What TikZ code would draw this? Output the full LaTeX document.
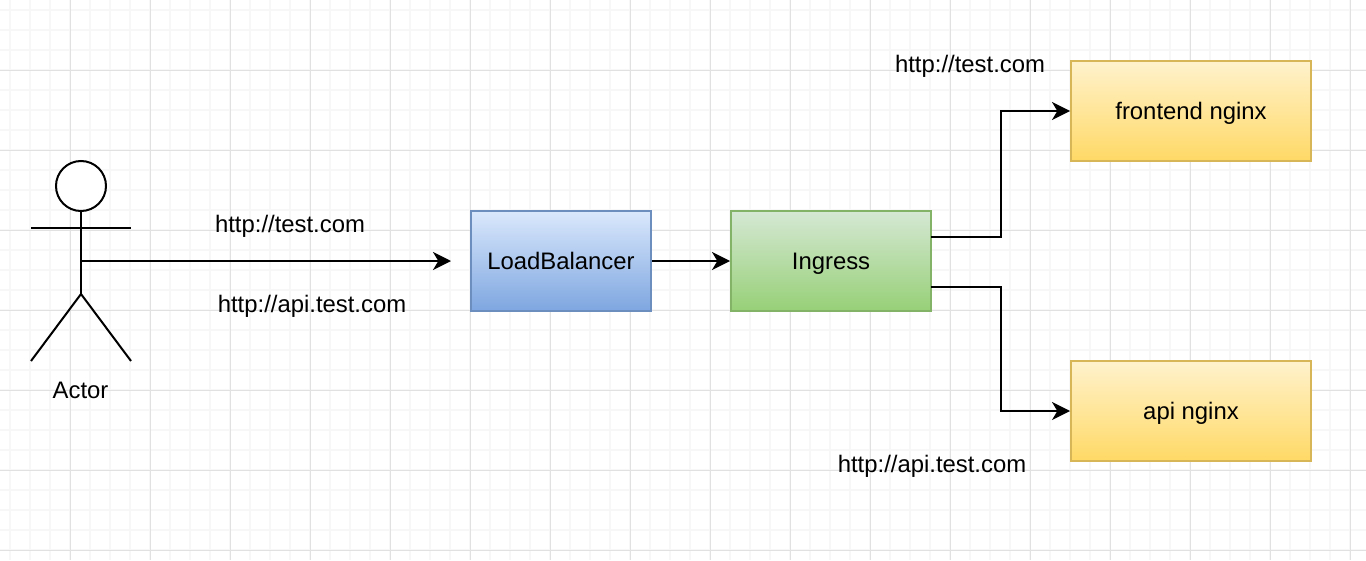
\documentclass[tikz,border=0pt]{standalone}
\usepackage{fontspec}
\setmainfont{Liberation Sans}
\usetikzlibrary{arrows.meta}
\definecolor{gridmajor}{HTML}{E1E1E1}
\definecolor{gridminor}{HTML}{F7F7F7}
\definecolor{bluetop}{HTML}{DAE8FC}
\definecolor{bluebot}{HTML}{7EA6E0}
\definecolor{blueline}{HTML}{6C8EBF}
\definecolor{greentop}{HTML}{D5E8D4}
\definecolor{greenbot}{HTML}{97D077}
\definecolor{greenline}{HTML}{82B366}
\definecolor{yellowtop}{HTML}{FFF2CC}
\definecolor{yellowbot}{HTML}{FFD966}
\definecolor{yellowline}{HTML}{D6B656}
\tikzset{
  x=0.75pt,y=-0.75pt,
  label text/.style={font=\fontsize{17.9pt}{20pt}\selectfont,text=black,inner sep=0pt,anchor=center,text height=16.8pt,text depth=4pt},
  box/.style={label text,rectangle,line width=1.5pt,minimum height=75pt,shading angle=0},
  bluebox/.style={box,draw=blueline,top color=bluetop,bottom color=bluebot,minimum width=135pt},
  greenbox/.style={box,draw=greenline,top color=greentop,bottom color=greenbot,minimum width=150pt},
  yellowbox/.style={box,draw=yellowline,top color=yellowtop,bottom color=yellowbot,minimum width=180pt},
  conn/.style={draw=black,line width=1.5pt,-{Stealth[length=13.5pt,width=13.5pt,inset=4pt]}},
  figure/.style={draw=black,line width=1.5pt},
  minorgrid/.style={draw=gridminor,line width=1.1pt},
  majorgrid/.style={draw=gridmajor,line width=0.75pt},
}
\begin{document}
\begin{tikzpicture}
\useasboundingbox (0,0) rectangle (1366,560);
\fill[white] (0,0) rectangle (1366,560);
% grid
\foreach \i in {10,30,...,1350} \draw[minorgrid] (\i,0) -- (\i,560);
\foreach \i in {10,30,...,550} \draw[minorgrid] (0,\i) -- (1366,\i);
\foreach \i in {70,150,...,1350} \draw[majorgrid] (\i+0.5,0) -- (\i+0.5,560);
\foreach \i in {70,150,...,550} \draw[majorgrid] (0,\i+0.5) -- (1366,\i+0.5);
% actor
\node[figure,circle,minimum size=37.5pt,inner sep=0pt,fill=white] (head) at (81,186) {};
\coordinate (neck) at (81,211);
\coordinate (hip) at (81,294);
\coordinate (armL) at (31,228);
\coordinate (armR) at (131,228);
\coordinate (footL) at (31,361);
\coordinate (footR) at (131,361);
\coordinate (waist) at (81,261);
\coordinate (lbin) at (451,261);
\draw[figure] (head.south) -- (hip);
\draw[figure] (armL) -- (armR);
\draw[figure] (footL) -- (hip) -- (footR);
\node[label text] (actor) at (80.5,390) {Actor};
% boxes
\node[bluebox] (lb) at (561,261) {LoadBalancer};
\node[greenbox] (ing) at (831,261) {Ingress};
\node[yellowbox] (fe) at (1191,111) {frontend nginx};
\node[yellowbox] (api) at (1191,411) {api nginx};
% labels
\node[label text] (t1) at (290,224) {http://test.com};
\node[label text] (t2) at (312,304) {http://api.test.com};
\node[label text] (t3) at (970,64) {http://test.com};
\node[label text] (t4) at (932,464) {http://api.test.com};
% connectors
\coordinate (ingA) at (931,237);
\coordinate (ingB) at (931,287);
\draw[conn] (waist) -- (lbin);
\draw[conn] (lb) -- (ing);
\draw[conn] (ingA) -- (1001,237) -- (1001,111) -- (fe.west);
\draw[conn] (ingB) -- (1001,287) -- (1001,411) -- (api.west);
\end{tikzpicture}
\end{document}
